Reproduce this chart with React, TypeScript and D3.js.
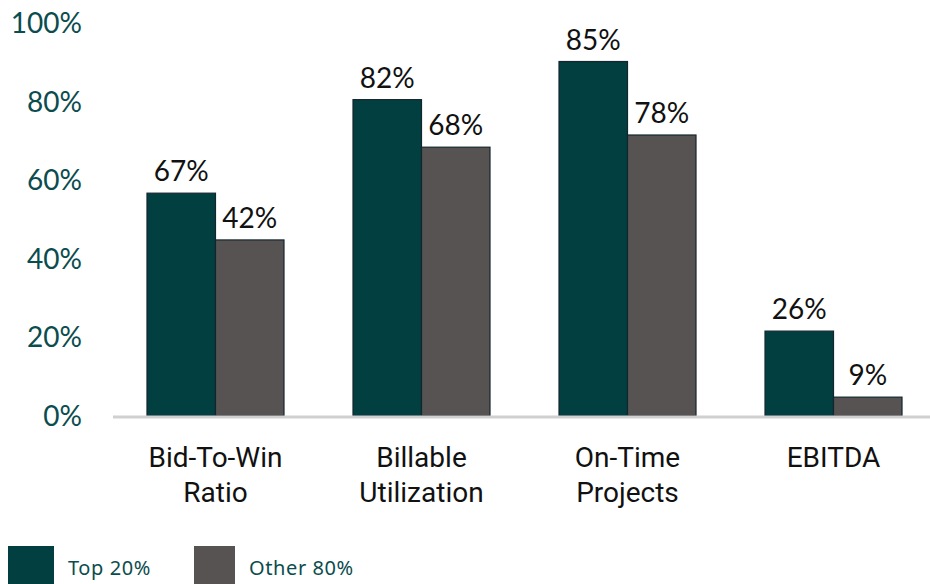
import React from "react";
import * as d3 from "d3";

const categories = ["Bid-To-Win Ratio", "Billable Utilization", "On-Time Projects", "EBITDA"];
const categoryLines = [["Bid-To-Win", "Ratio"], ["Billable", "Utilization"], ["On-Time", "Projects"], ["EBITDA"]];
const seriesNames = ["Top 20%", "Other 80%"];
const top20Values = [56.7, 80.5, 90.2, 21.6];
const other80Values = [44.8, 68.4, 71.5, 4.8];
const top20Labels = ["67%", "82%", "85%", "26%"];
const other80Labels = ["42%", "68%", "78%", "9%"];
const yTicks = [0, 20, 40, 60, 80, 100];
const colors = ["#023f40", "#575352"];

export default function App() {
  const W = 930, H = 584;
  const x0 = d3.scaleBand<string>().domain(categories).range([113, 936]).paddingInner(0.335).paddingOuter(0.165);
  const x1 = d3.scaleBand<string>().domain(seriesNames).range([0, x0.bandwidth()]).padding(0);
  const y = d3.scaleLinear().domain([0, 100]).range([416, 23]);
  const values = [top20Values, other80Values];
  const labels = [top20Labels, other80Labels];
  const tealText = "#0b4c4e";
  const numFont = "Lato, 'Open Sans', sans-serif";
  return (
    <svg width={W} height={H} style={{ position: "absolute", left: 0, top: 0, background: "#fff" }}>
      {yTicks.map((t) => (
        <text key={t} x={82} y={y(t)} dy="0.36em" textAnchor="end" fontFamily={numFont} fontSize={28} fill={tealText}>
          {t}%
        </text>
      ))}
      {categories.map((c, i) => (
        <g key={c} transform={`translate(${x0(c)},0)`}>
          {seriesNames.map((s, j) => {
            const v = values[j][i];
            const bx = x1(s)!;
            return (
              <g key={s}>
                <rect x={bx} y={y(v)} width={x1.bandwidth()} height={y(0) - y(v)} fill={colors[j]} stroke="#13262e" strokeWidth={1.2} />
                <text x={bx + x1.bandwidth() / 2} y={y(v) - 12} textAnchor="middle" fontFamily={numFont} fontSize={28} fill="#111">
                  {labels[j][i]}
                </text>
              </g>
            );
          })}
        </g>
      ))}
      <line x1={113} x2={W} y1={417} y2={417} stroke="#d0d0d0" strokeWidth={3} />
      {categories.map((c, i) => (
        <text key={c} textAnchor="middle" fontFamily="Roboto, sans-serif" fontSize={28} fill="#111">
          {categoryLines[i].map((ln, k) => (
            <tspan key={k} x={x0(c)! + x0.bandwidth() / 2} y={467 + k * 35}>{ln}</tspan>
          ))}
        </text>
      ))}
      {seriesNames.map((s, j) => {
        const lx = j === 0 ? 8 : 194;
        return (
          <g key={s}>
            <rect x={lx} y={546} width={j === 0 ? 46 : 41} height={40} fill={colors[j]} />
            <text x={lx + (j === 0 ? 60 : 55)} y={575} fontFamily="'Noto Sans', sans-serif" fontSize={20} letterSpacing={0.6} fill={tealText}>{s}</text>
          </g>
        );
      })}
    </svg>
  );
}
